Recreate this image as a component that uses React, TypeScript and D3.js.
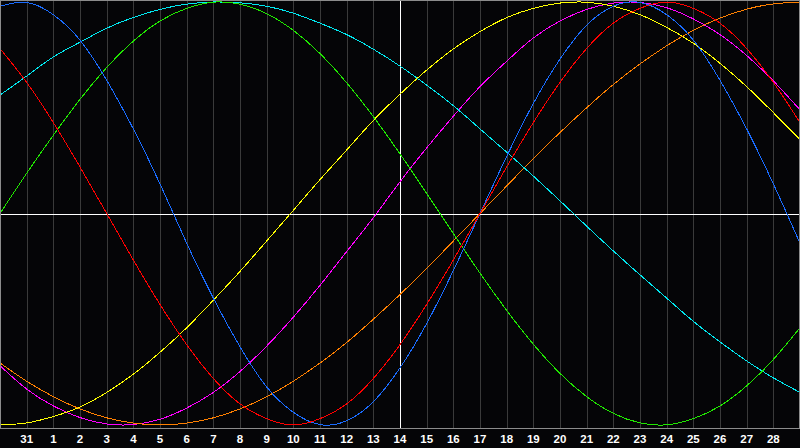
import * as d3 from "d3";

// day labels under the vertical grid lines (index 1..29), previous month's 30th sits at index 0
const dayLabels = ["31", "1", "2", "3", "4", "5", "6", "7", "8", "9", "10", "11", "12", "13", "14", "15", "16", "17", "18", "19", "20", "21", "22", "23", "24", "25", "26", "27", "28"];
const todayIndex = 15;

// cycle values, one per day column (index 0..30)
const physical = [98, 99.8, 94, 82, 63, 40, 14, -14, -40, -63, -82, -94, -99.8, -98, -89, -73, -52, -27, 0, 27, 52, 73, 89, 98, 99.8, 94, 82, 63, 40, 14, -14];
const emotional = [78, 62, 43, 22, 0, -22, -43, -62, -78, -90, -97, -100, -97, -90, -78, -62, -43, -22, 0, 22, 43, 62, 78, 90, 97, 100, 97, 90, 78, 62, 43];
const intellectual = [0, 19, 37, 54, 69, 81.5, 91, 97, 99.9, 99, 94.5, 86.6, 75.6, 61.8, 45.8, 28.2, 9.5, -9.5, -28.2, -45.8, -61.8, -75.6, -86.6, -94.5, -99, -99.9, -97, -91, -81.5, -69, -54];
const intuitive = [-72, -83, -91, -96.5, -99.5, -99.8, -97.3, -92, -84.6, -74.7, -62.7, -49, -34, -18, -2, 15, 31, 46, 60, 72, 83, 91, 96.5, 99.5, 99.8, 97.3, 92, 84.6, 74.7, 62.7, 49];
const aesthetic = [-100, -99, -96, -91.5, -84.6, -76, -65.6, -54, -41, -27.4, -13, 1.5, 16, 30, 44, 56.4, 67.8, 77.8, 86, 92.6, 97, 99.5, 99.9, 98, 94, 88, 80.5, 71, 60, 47.7, 35];
const awareness = [-70.7, -79.3, -86.6, -92.4, -96.6, -99.1, -100, -99.1, -96.6, -92.4, -86.6, -79.3, -70.7, -61, -50, -38.3, -26, -13, 0, 13, 26, 38.3, 50, 61, 70.7, 79.3, 86.6, 92.4, 96.6, 99.1, 100];
const spiritual = [56, 65, 74, 81, 87.6, 92.7, 96.5, 99, 100, 99.6, 98, 94.7, 90, 84.6, 77.7, 69.7, 60.7, 51, 40, 29, 17.7, 6, -6, -17.7, -29, -40, -51, -60.7, -69.7, -77.7, -84.6];

const series = [
  { name: "intuitive", values: intuitive, color: "#ff00ff" },
  { name: "aesthetic", values: aesthetic, color: "#ffff00" },
  { name: "awareness", values: awareness, color: "#ff8000" },
  { name: "spiritual", values: spiritual, color: "#00e8f0" },
  { name: "intellectual", values: intellectual, color: "#20e800" },
  { name: "physical", values: physical, color: "#1a6cff" },
  { name: "emotional", values: emotional, color: "#ff0000" },
];

const width = 800;
const height = 448;
const plotBottom = 428;

export default function App() {
  const columns = d3.range(31);
  const x = d3.scaleLinear().domain([0, 30]).range([0, width]);
  const y = d3.scaleLinear().domain([-100, 100]).range([425, 2]);
  const line = d3
    .line<number>()
    .x((_, i) => x(i))
    .y((v) => y(v))
    .curve(d3.curveNatural);

  const px = (v: number) => Math.round(v) + 0.5;

  return (
    <>
      <style>{"body{margin:0;background:#050507}"}</style>
      <svg width={width} height={height} style={{ display: "block", background: "#050507" }}>
        {columns.slice(1, 30).map((i) => (
          <line key={`g-${i}`} x1={px(x(i))} x2={px(x(i))} y1={0} y2={plotBottom} stroke="#3a3a3a" strokeWidth={1} />
        ))}
        <line x1={0} x2={width} y1={px(y(0))} y2={px(y(0))} stroke="#ffffff" strokeWidth={1} />
        <line x1={px(x(todayIndex))} x2={px(x(todayIndex))} y1={0} y2={plotBottom} stroke="#ffffff" strokeWidth={1} />
        {series.map((s) => (
          <path key={s.name} d={line(s.values) ?? ""} fill="none" stroke={s.color} strokeWidth={1} shapeRendering="crispEdges" />
        ))}
        <rect x={0.5} y={0.5} width={width - 1} height={plotBottom} fill="none" stroke="#8c8c8c" strokeWidth={1} />
        {dayLabels.map((label, k) => (
          <text
            key={`l-${label}`}
            x={x(k + 1)}
            y={443}
            textAnchor="middle"
            fill="#ffffff"
            fontFamily="'Liberation Sans', Arial, sans-serif"
            fontWeight="bold"
            fontSize={11.5}
          >
            {label}
          </text>
        ))}
      </svg>
    </>
  );
}
